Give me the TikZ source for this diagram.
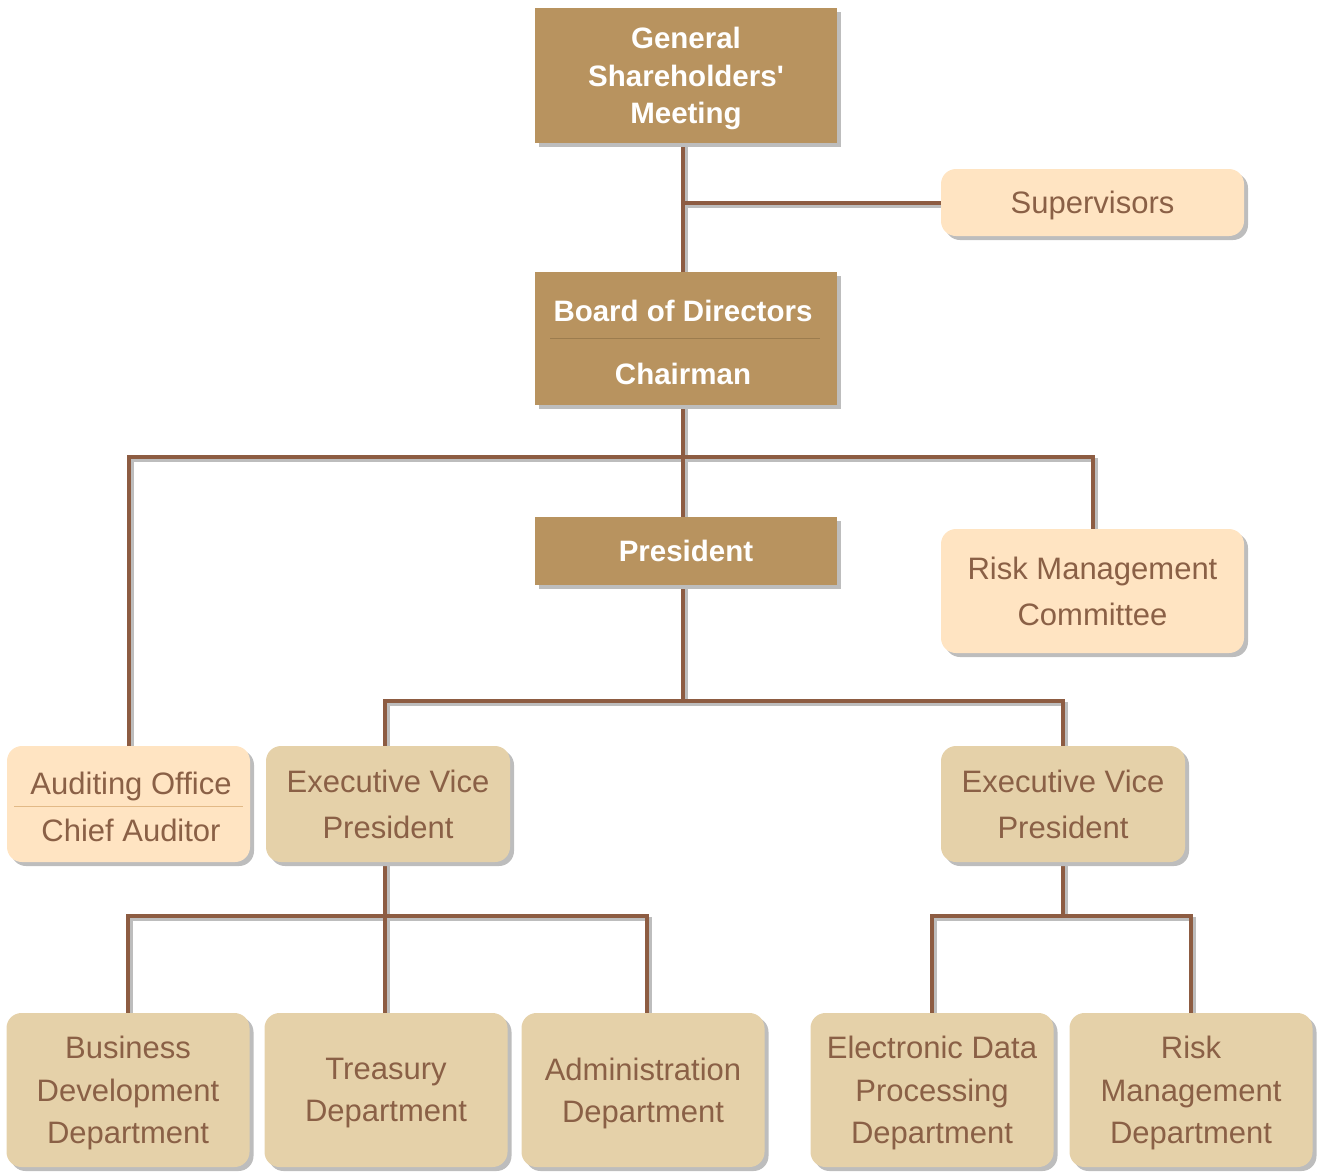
\documentclass[tikz,border=0pt]{standalone}
\usepackage{fontspec}
\setmainfont{Liberation Sans}[Ligatures=TeXOff]
\usetikzlibrary{shadows,backgrounds}
\definecolor{darkfill}{HTML}{B8935F}
\definecolor{peach}{HTML}{FFE4C2}
\definecolor{tan}{HTML}{E5D1A9}
\definecolor{txtbrown}{HTML}{8A6046}
\definecolor{linebrown}{HTML}{8D5C42}
\definecolor{shadowgray}{HTML}{BDBDBD}
\definecolor{seplight}{HTML}{E2B986}
\definecolor{sepdark}{HTML}{9C7C4E}
\begin{document}
\begin{tikzpicture}[x=1pt,y=-1pt,
  base/.style={inner sep=0pt, align=center, text depth=0pt,
    drop shadow={shadow xshift=4pt,shadow yshift=-4pt,fill=shadowgray,opacity=1}},
  darkbox/.style={base, fill=darkfill, text=white,
    font={\fontsize{29.5}{37.5}\selectfont\bfseries}},
  peachbox/.style={base, fill=peach, rounded corners=15pt, text=txtbrown,
    font={\fontsize{31}{46}\selectfont}},
  tanbox/.style={base, fill=tan, rounded corners=15pt, text=txtbrown,
    font={\fontsize{31}{46}\selectfont}},
  deptbox/.style={tanbox, minimum width=243pt, minimum height=154pt,
    font={\fontsize{31}{42.5}\selectfont}},
  lbl/.style={inner sep=0pt, align=center, text depth=0pt},
  conn/.style={draw=linebrown, line width=4pt},
  connshadow/.style={draw=shadowgray, line width=4pt}
]
\useasboundingbox (0,0) rectangle (1317,1171);

% top level
\node[darkbox, minimum width=302pt, minimum height=135pt] (gsm) at (686,75.5)
  {General\\Shareholders'\\Meeting};
\node[peachbox, minimum width=303pt, minimum height=67pt] (sup) at (1092.5,202.5)
  {Supervisors};
\node[darkbox, minimum width=302pt, minimum height=133pt] (board) at (686,338.5) {};
\node[lbl, text=white, font={\fontsize{29.5}{35}\selectfont\bfseries}] (boardt) at (683,311) {Board of Directors};
\node[lbl, text=white, font={\fontsize{29.5}{35}\selectfont\bfseries}] (chairt) at (683,374) {Chairman};
\draw[sepdark, line width=1pt] (550,338) -- (820,338);
\node[darkbox, minimum width=302pt, minimum height=68pt] (pres) at (686,551) {President};
\node[peachbox, minimum width=303pt, minimum height=124pt] (rmc) at (1092.5,591)
  {Risk Management\\Committee};

% middle level
\node[peachbox, minimum width=243pt, minimum height=116pt] (aud) at (128.5,804) {};
\node[lbl, text=txtbrown, font={\fontsize{31}{35}\selectfont}] (audt) at (131,783) {Auditing Office};
\node[lbl, text=txtbrown, font={\fontsize{31}{35}\selectfont}] (chieft) at (131,830) {Chief Auditor};
\draw[seplight, line width=1pt] (14,806) -- (243,806);
\node[tanbox, minimum width=244pt, minimum height=116pt] (evp1) at (388,804)
  {Executive Vice\\President};
\node[tanbox, minimum width=244pt, minimum height=116pt] (evp2) at (1063,804)
  {Executive Vice\\President};

% departments
\node[deptbox] (bd) at (128,1090) {Business\\Development\\Department};
\node[deptbox] (treas) at (386,1090) {Treasury\\Department};
\node[deptbox] (admin) at (643,1090) {Administration\\Department};
\node[deptbox] (edp) at (932,1090) {Electronic Data\\Processing\\Department};
\node[deptbox] (rmd) at (1191,1090) {Risk\\Management\\Department};

\coordinate (j1) at (683,457);
\coordinate (j2) at (683,701);
\coordinate (j3) at (385,916);
\coordinate (j4) at (1063,916);
\coordinate (ja) at (647,916);

\newcommand\orgconnectors[1]{%
  \draw[#1] (gsm.south -| j1) -- (board.north -| j1);
  \draw[#1] (j1 |- sup.west) -- (sup.west);
  \draw[#1] (board.south -| j1) -- (pres.north -| j1);
  \draw[#1] (aud.north) |- (j1) -| (rmc.north);
  \draw[#1] (pres.south -| j2) -- (j2);
  \draw[#1] (evp1.north -| j3) |- (j2) -| (evp2.north);
  \draw[#1] (evp1.south -| j3) -- (treas.north -| j3);
  \draw[#1] (bd.north) |- (j3) -- (ja) -- (admin.north -| ja);
  \draw[#1] (evp2.south) -- (j4);
  \draw[#1] (edp.north) |- (j4) -| (rmd.north);
}
\begin{scope}[on background layer]
  \begin{scope}[transform canvas={xshift=3pt,yshift=-3pt}]
    \orgconnectors{connshadow}
  \end{scope}
  \orgconnectors{conn}
\end{scope}
\end{tikzpicture}
\end{document}
